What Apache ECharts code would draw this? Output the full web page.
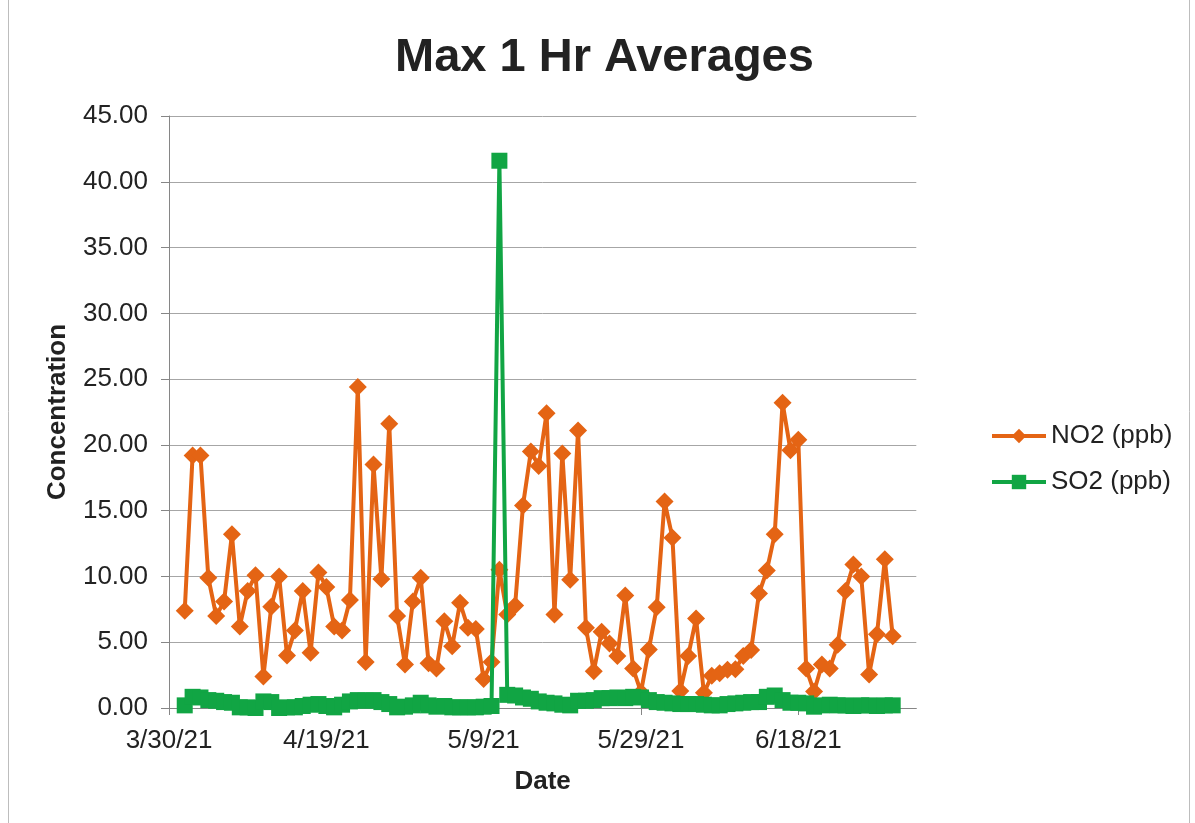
<!DOCTYPE html>
<html>
<head>
<meta charset="utf-8">
<script src="https://cdn.jsdelivr.net/npm/echarts@6/dist/echarts.min.js"></script>
<style>
html,body{margin:0;padding:0;background:#fff;}
#c{width:1195px;height:823px;}
</style>
</head>
<body>
<div id="c"></div>
<script>
// ---- data ----
var axisStart = '2021-03-30';
var tickLabels = ['3/30/21','4/19/21','5/9/21','5/29/21','6/18/21'];
var tickDays = [0, 20, 40, 60, 80];
var dates = [
 '2021-04-01','2021-04-02','2021-04-03','2021-04-04','2021-04-05','2021-04-06','2021-04-07','2021-04-08','2021-04-09','2021-04-10',
 '2021-04-11','2021-04-12','2021-04-13','2021-04-14','2021-04-15','2021-04-16','2021-04-17','2021-04-18','2021-04-19','2021-04-20',
 '2021-04-21','2021-04-22','2021-04-23','2021-04-24','2021-04-25','2021-04-26','2021-04-27','2021-04-28','2021-04-29','2021-04-30',
 '2021-05-01','2021-05-02','2021-05-03','2021-05-04','2021-05-05','2021-05-06','2021-05-07','2021-05-08','2021-05-09','2021-05-10',
 '2021-05-11','2021-05-12','2021-05-13','2021-05-14','2021-05-15','2021-05-16','2021-05-17','2021-05-18','2021-05-19','2021-05-20',
 '2021-05-21','2021-05-22','2021-05-23','2021-05-24','2021-05-25','2021-05-26','2021-05-27','2021-05-28','2021-05-29','2021-05-30',
 '2021-05-31','2021-06-01','2021-06-02','2021-06-03','2021-06-04','2021-06-05','2021-06-06','2021-06-07','2021-06-08','2021-06-09',
 '2021-06-10','2021-06-11','2021-06-12','2021-06-13','2021-06-14','2021-06-15','2021-06-16','2021-06-17','2021-06-18','2021-06-19',
 '2021-06-20','2021-06-21','2021-06-22','2021-06-23','2021-06-24','2021-06-25','2021-06-26','2021-06-27','2021-06-28','2021-06-29',
 '2021-06-30'
];
var no2 = [
 7.4, 19.2, 19.2, 9.9, 7.0, 8.1, 13.2, 6.2, 8.9, 10.1,
 2.4, 7.7, 10.0, 4.0, 5.9, 8.9, 4.2, 10.3, 9.2, 6.2,
 5.9, 8.2, 24.4, 3.5, 18.5, 9.8, 21.6, 7.0, 3.3, 8.1,
 9.9, 3.4, 3.0, 6.6, 4.7, 8.0, 6.1, 6.0, 2.2, 3.5,
 10.5, 7.1, 7.8, 15.4, 19.5, 18.4, 22.4, 7.1, 19.35, 9.75,
 21.1, 6.1, 2.8, 5.8, 4.9, 3.95, 8.55, 3.0, 1.2, 4.45,
 7.65, 15.7, 12.95, 1.3, 3.95, 6.8, 1.15, 2.45, 2.65, 2.9,
 2.95, 3.95, 4.4, 8.7, 10.45, 13.2, 23.2, 19.6, 20.4, 3.0,
 1.25, 3.3, 3.0, 4.8, 8.9, 10.9, 10.0, 2.55, 5.6, 11.3,
 5.45
];
var so2 = [
 0.2, 0.85, 0.8, 0.6, 0.55, 0.45, 0.4, 0.05, 0.05, 0.0,
 0.5, 0.45, 0.0, 0.05, 0.05, 0.15, 0.25, 0.3, 0.15, 0.05,
 0.25, 0.5, 0.6, 0.55, 0.6, 0.45, 0.3, 0.05, 0.1, 0.2,
 0.4, 0.2, 0.1, 0.15, 0.05, 0.05, 0.05, 0.05, 0.1, 0.15,
 41.6, 1.0, 0.95, 0.8, 0.7, 0.5, 0.4, 0.35, 0.25, 0.2,
 0.55, 0.55, 0.6, 0.75, 0.75, 0.8, 0.75, 0.85, 0.8, 0.6,
 0.45, 0.4, 0.35, 0.3, 0.3, 0.3, 0.25, 0.2, 0.2, 0.3,
 0.35, 0.4, 0.45, 0.45, 0.85, 0.95, 0.6, 0.4, 0.4, 0.35,
 0.1, 0.2, 0.25, 0.2, 0.2, 0.15, 0.2, 0.2, 0.15, 0.2,
 0.2
];

// ---- build ----
var DAY = 86400000;
function dayOf(s){ var p = s.split('-'); return Date.UTC(+p[0], +p[1]-1, +p[2]); }
var t0 = dayOf(axisStart);
function pairs(vals){ return dates.map(function(d,i){ return [(dayOf(d)-t0)/DAY, vals[i]]; }); }

var FONT = '"Liberation Sans", Arial, sans-serif';
var TXT = '#222222';
var GRID = '#A6A6A6';
var AXIS = '#868686';
var ORANGE = '#E46414';
var GREEN = '#11A544';

var chart = echarts.init(document.getElementById('c'), null, {renderer:'canvas'});
chart.setOption({
  animation: false,
  backgroundColor: '#ffffff',
  textStyle: {fontFamily: FONT},
  title: {
    text: 'Max 1 Hr Averages',
    left: 395, top: 35, padding: 0,
    textStyle: {fontSize: 47, fontWeight: 'bold', color: TXT, fontFamily: FONT}
  },
  legend: {
    orient: 'vertical',
    left: 990, top: 423, padding: 0,
    itemWidth: 54, itemHeight: 18, itemGap: 20,
    lineStyle: {width: 4},
    textStyle: {fontSize: 26, color: TXT, fontFamily: FONT},
    data: ['NO2 (ppb)', 'SO2 (ppb)']
  },
  grid: {left: 169, right: 278.7, top: 116, bottom: 115, containLabel: false},
  xAxis: {
    type: 'value', min: 0, max: 95, interval: 20,
    name: 'Date', nameLocation: 'middle', nameGap: 61,
    nameTextStyle: {fontSize: 26, fontWeight: 'bold', color: TXT, fontFamily: FONT},
    axisLine: {show: true, onZero: false, lineStyle: {color: AXIS, width: 1}},
    axisTick: {show: true, length: 7, inside: false, customValues: tickDays, lineStyle: {color: AXIS}},
    axisLabel: {
      customValues: tickDays, margin: 20,
      fontSize: 26, color: TXT, fontFamily: FONT,
      formatter: function(v){ var i = tickDays.indexOf(Math.round(v)); return i >= 0 ? tickLabels[i] : ''; }
    },
    splitLine: {show: false}
  },
  yAxis: {
    type: 'value', min: 0, max: 45, interval: 5,
    name: 'Concentration', nameLocation: 'middle', nameGap: 98,
    nameTextStyle: {fontSize: 26, fontWeight: 'bold', color: TXT, fontFamily: FONT},
    axisLine: {show: true, lineStyle: {color: AXIS, width: 1}},
    axisTick: {show: true, length: 8, inside: false, lineStyle: {color: AXIS}},
    axisLabel: {margin: 21, fontSize: 26, color: TXT, fontFamily: FONT,
      formatter: function(v){ return v.toFixed(2); }},
    splitLine: {show: true, lineStyle: {color: GRID, width: 1}}
  },
  graphic: [{
    type: 'rect', silent: true, z: -1,
    shape: {x: 8.5, y: -5, width: 1181, height: 840},
    style: {fill: 'none', stroke: '#BDBDBD', lineWidth: 1}
  }],
  series: [{
    name: 'NO2 (ppb)', type: 'line',
    data: pairs(no2),
    symbol: 'diamond', symbolSize: 18,
    lineStyle: {color: ORANGE, width: 4},
    itemStyle: {color: ORANGE},
    z: 2
  }, {
    name: 'SO2 (ppb)', type: 'line',
    data: pairs(so2),
    symbol: 'rect', symbolSize: 16,
    lineStyle: {color: GREEN, width: 4},
    itemStyle: {color: GREEN},
    z: 3
  }]
});
</script>
</body>
</html>
